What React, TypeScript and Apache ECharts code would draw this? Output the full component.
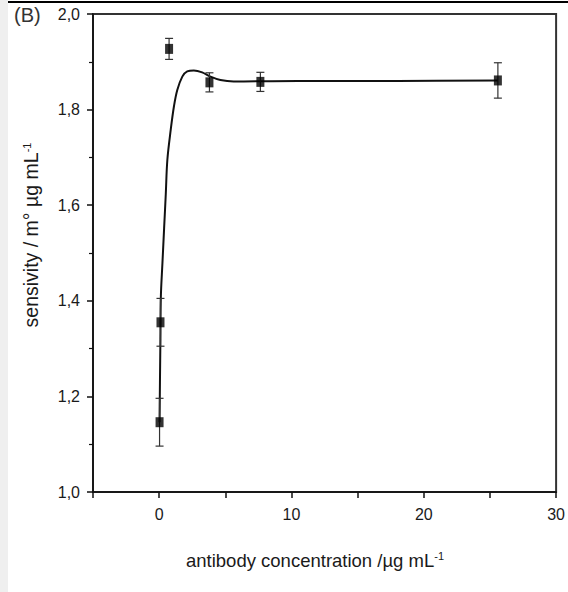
import React, { useEffect, useRef } from "react";
import * as echarts from "echarts";

// Measured points (x: antibody concentration, y: sensitivity, err: error bar half-height)
const pointX = [0.03, 0.1, 0.75, 3.8, 7.65, 25.6];
const pointY = [1.146, 1.355, 1.927, 1.857, 1.858, 1.861];
const pointErr = [0.05, 0.05, 0.022, 0.02, 0.02, 0.037];

// Fitted curve
const curveX = [0.03, 0.06, 0.095, 0.128, 0.248, 0.375, 0.5, 0.62, 0.88, 1.125, 1.37, 1.75, 2.12, 2.62, 3.25, 3.88, 4.63, 5.63, 6.4, 10.5, 18, 25.6];
const curveY = [1.146, 1.23, 1.32, 1.408, 1.479, 1.552, 1.623, 1.695, 1.759, 1.808, 1.841, 1.869, 1.88, 1.882, 1.878, 1.869, 1.862, 1.859, 1.859, 1.86, 1.86, 1.861];

const xTickLabels = ["0", "10", "20", "30"];

const FONT = "'Liberation Sans', Arial, sans-serif";
const TEXT_COLOR = "#1a1a1a";

export default function App() {
  const ref = useRef<HTMLDivElement>(null);

  useEffect(() => {
    if (!ref.current) return;
    const chart = echarts.init(ref.current, undefined, { renderer: "svg" });

    const points = pointX.map((x, i) => [x, pointY[i]]);
    const errs = pointX.map((x, i) => [x, pointY[i], pointErr[i]]);
    const curve = curveX.map((x, i) => [x, curveY[i]]);

    chart.setOption({
      animation: false,
      backgroundColor: "#fff",
      grid: {
        left: 93,
        right: 8,
        top: 14,
        bottom: 100,
        show: true,
        borderColor: "#333",
        borderWidth: 2,
        backgroundColor: "transparent",
      },
      xAxis: {
        type: "value",
        min: -5,
        max: 30,
        interval: 5,
        axisLine: { show: true, onZero: false, lineStyle: { color: "#111", width: 1.5 } },
        axisTick: { show: true, length: 6, inside: false, lineStyle: { color: "#111", width: 1.5 } },
        splitLine: { show: false },
        axisLabel: {
          margin: 14,
          fontSize: 16,
          fontFamily: FONT,
          color: TEXT_COLOR,
          formatter: (v: number) => {
            const s = String(v);
            return xTickLabels.includes(s) ? s : "";
          },
        },
      },
      yAxis: {
        type: "value",
        min: 1,
        max: 2,
        interval: 0.2,
        axisLine: { show: true, onZero: false, lineStyle: { color: "#111", width: 1.5 } },
        axisTick: { show: true, length: 6, inside: false, lineStyle: { color: "#111", width: 1.5 } },
        minorTick: { show: true, splitNumber: 2, length: 4, lineStyle: { color: "#111", width: 1.2 } },
        splitLine: { show: false },
        minorSplitLine: { show: false },
        axisLabel: {
          margin: 13,
          fontSize: 16,
          fontFamily: FONT,
          color: TEXT_COLOR,
          formatter: (v: number) => v.toFixed(1).replace(".", ","),
        },
      },
      graphic: [
        { type: "rect", shape: { x: 0, y: 0, width: 8, height: 592 }, style: { fill: "#efefef" }, z: 100 },
        { type: "line", shape: { x1: 8, y1: 2, x2: 568, y2: 2 }, style: { stroke: "#000", lineWidth: 2 }, z: 100 },
        {
          type: "text",
          x: 14,
          y: 15,
          style: { text: "(B)", font: `20px ${FONT}`, fill: "#333", textVerticalAlign: "middle" },
          z: 100,
        },
        {
          type: "text",
          x: 315,
          y: 560,
          style: {
            text: "antibody concentration /µg mL{sup|-1}",
            font: `18.5px ${FONT}`,
            fill: TEXT_COLOR,
            textAlign: "center",
            textVerticalAlign: "middle",
            rich: { sup: { fontSize: 11, fontFamily: FONT, fill: TEXT_COLOR, verticalAlign: "top" } },
          },
          z: 100,
        },
        {
          type: "text",
          x: 31,
          y: 235,
          rotation: Math.PI / 2,
          style: {
            text: "sensivity / m° µg mL{sup|-1}",
            font: `19.5px ${FONT}`,
            fill: TEXT_COLOR,
            textAlign: "center",
            textVerticalAlign: "middle",
            rich: { sup: { fontSize: 11, fontFamily: FONT, fill: TEXT_COLOR, verticalAlign: "top" } },
          },
          z: 100,
        },
      ],
      series: [
        {
          type: "line",
          data: curve,
          smooth: 0.35,
          showSymbol: false,
          symbol: "none",
          lineStyle: { color: "#111", width: 2 },
          z: 2,
        },
        {
          type: "custom",
          data: errs,
          renderItem: (params: any, api: any) => {
            const x = api.value(0);
            const y = api.value(1);
            const e = api.value(2);
            const top = api.coord([x, y + e]);
            const bot = api.coord([x, y - e]);
            const hw = 4;
            const style = { stroke: "#333", lineWidth: 1.2 };
            return {
              type: "group",
              children: [
                { type: "line", shape: { x1: top[0], y1: top[1], x2: bot[0], y2: bot[1] }, style },
                { type: "line", shape: { x1: top[0] - hw, y1: top[1], x2: top[0] + hw, y2: top[1] }, style },
                { type: "line", shape: { x1: bot[0] - hw, y1: bot[1], x2: bot[0] + hw, y2: bot[1] }, style },
              ],
            };
          },
          z: 3,
        },
        {
          type: "scatter",
          data: points,
          symbol: "rect",
          symbolSize: [8, 10],
          itemStyle: { color: "#000" },
          z: 4,
        },
      ],
    });

    return () => chart.dispose();
  }, []);

  return (
    <div
      ref={ref}
      style={{ position: "fixed", left: 0, top: 0, width: 568, height: 592 }}
    />
  );
}
